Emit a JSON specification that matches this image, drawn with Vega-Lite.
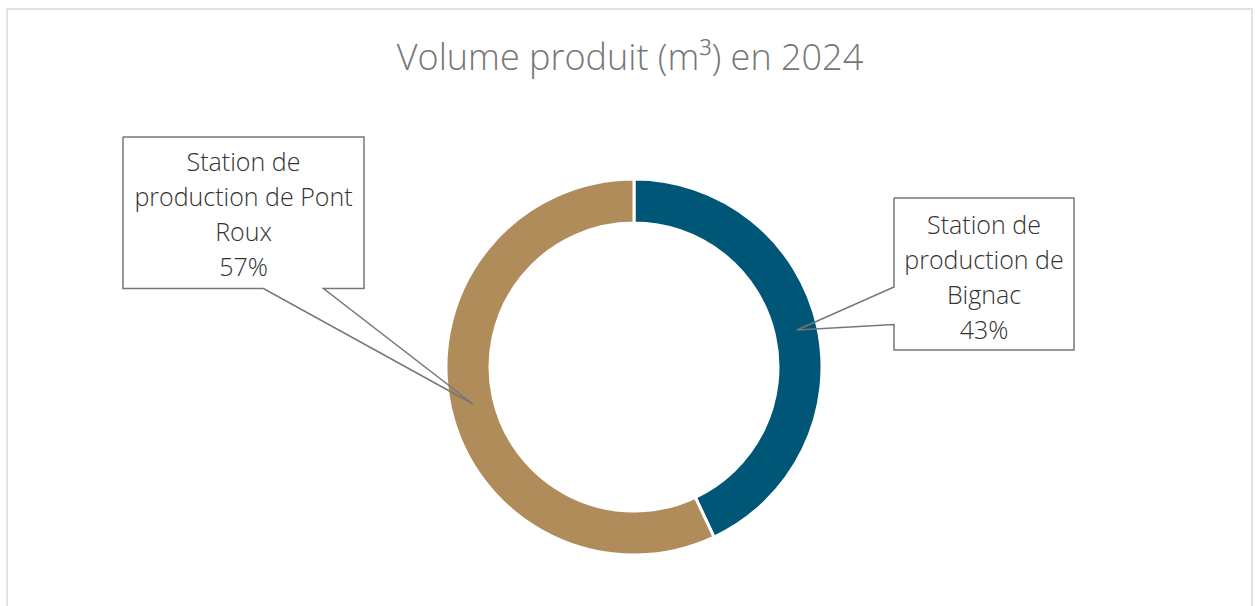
{
  "$schema": "https://vega.github.io/schema/vega-lite/v6.json",
  "width": 1255,
  "height": 606,
  "padding": 0,
  "autosize": {"type": "none"},
  "background": "white",
  "config": {"view": {"stroke": null}},
  "datasets": {
    "share": [
      {"station": "Station de production de Bignac", "pct": 43},
      {"station": "Station de production de Pont Roux", "pct": 57}
    ],
    "callouts": [
      {"c": "pont", "i": 0, "x": 123, "y": 137},
      {"c": "pont", "i": 1, "x": 364, "y": 137},
      {"c": "pont", "i": 2, "x": 364, "y": 288.5},
      {"c": "pont", "i": 3, "x": 323.5, "y": 288.5},
      {"c": "pont", "i": 4, "x": 473, "y": 404},
      {"c": "pont", "i": 5, "x": 263.5, "y": 288.5},
      {"c": "pont", "i": 6, "x": 123, "y": 288.5},
      {"c": "pont", "i": 7, "x": 123, "y": 137},
      {"c": "bignac", "i": 0, "x": 894, "y": 198},
      {"c": "bignac", "i": 1, "x": 1074, "y": 198},
      {"c": "bignac", "i": 2, "x": 1074, "y": 350},
      {"c": "bignac", "i": 3, "x": 894, "y": 350},
      {"c": "bignac", "i": 4, "x": 894, "y": 324.5},
      {"c": "bignac", "i": 5, "x": 797, "y": 330},
      {"c": "bignac", "i": 6, "x": 894, "y": 287},
      {"c": "bignac", "i": 7, "x": 894, "y": 198}
    ],
    "labels": [
      {"station": "Station de production de Pont Roux", "text": ["Station de", "production de Pont", "Roux", "57%"]},
      {"station": "Station de production de Bignac", "text": ["Station de", "production de", "Bignac", "43%"]}
    ]
  },
  "layer": [
    {
      "data": {"values": [{}]},
      "mark": {"type": "rect", "fill": null, "stroke": "#d9d9d9", "strokeWidth": 1.5},
      "encoding": {
        "x": {"datum": 7, "type": "quantitative", "scale": {"domain": [0, 1255], "nice": false, "zero": false}, "axis": null},
        "x2": {"datum": 1252},
        "y": {"datum": 9, "type": "quantitative", "scale": {"domain": [0, 606], "nice": false, "zero": false, "reverse": true}, "axis": null},
        "y2": {"datum": 640}
      }
    },
    {
      "data": {"values": [{}]},
      "mark": {"type": "text", "font": "Open Sans", "fontWeight": 300, "fontSize": 36, "color": "#767676", "align": "center", "baseline": "middle", "text": "Volume produit (m³) en 2024"},
      "encoding": {
        "x": {"datum": 630, "type": "quantitative"},
        "y": {"datum": 59, "type": "quantitative"}
      }
    },
    {
      "data": {"name": "share"},
      "mark": {"type": "arc", "innerRadius": 144, "outerRadius": 188, "stroke": "white", "strokeWidth": 3},
      "encoding": {
        "theta": {"field": "pct", "type": "quantitative", "stack": true},
        "color": {
          "field": "station", "type": "nominal",
          "scale": {"domain": ["Station de production de Bignac", "Station de production de Pont Roux"], "range": ["#005677", "#b08c5a"]},
          "legend": null
        },
        "x": {"datum": 634, "type": "quantitative"},
        "y": {"datum": 367, "type": "quantitative"}
      }
    },
    {
      "data": {"name": "callouts"},
      "mark": {"type": "line", "stroke": "#767676", "strokeWidth": 1.5, "strokeJoin": "miter"},
      "encoding": {
        "x": {"field": "x", "type": "quantitative"},
        "y": {"field": "y", "type": "quantitative"},
        "detail": {"field": "c"},
        "order": {"field": "i", "type": "quantitative"}
      }
    },
    {
      "data": {"name": "labels"},
      "transform": [{"filter": "datum.station === 'Station de production de Pont Roux'"}],
      "mark": {"type": "text", "font": "Open Sans", "fontWeight": 300, "fontSize": 25, "lineHeight": 35, "color": "#333333", "align": "center", "baseline": "middle"},
      "encoding": {
        "text": {"field": "text"},
        "x": {"datum": 243.5, "type": "quantitative"},
        "y": {"datum": 163, "type": "quantitative"}
      }
    },
    {
      "data": {"name": "labels"},
      "transform": [{"filter": "datum.station === 'Station de production de Bignac'"}],
      "mark": {"type": "text", "font": "Open Sans", "fontWeight": 300, "fontSize": 25, "lineHeight": 35, "color": "#333333", "align": "center", "baseline": "middle"},
      "encoding": {
        "text": {"field": "text"},
        "x": {"datum": 984, "type": "quantitative"},
        "y": {"datum": 226, "type": "quantitative"}
      }
    }
  ]
}
